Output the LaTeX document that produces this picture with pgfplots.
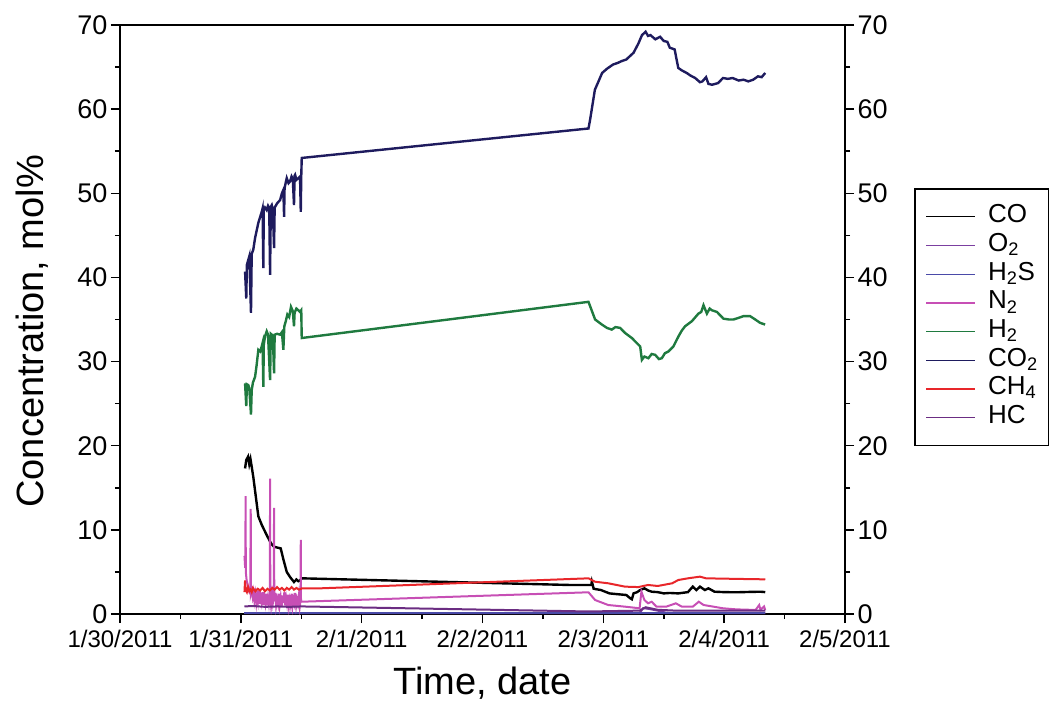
\documentclass[border=0pt]{standalone}
\usepackage{fontspec}
\setmainfont{Liberation Sans}
\usepackage{pgfplots}
\pgfplotsset{compat=1.18}
\definecolor{cCO}{HTML}{000000}
\definecolor{cO2}{HTML}{7B3FA0}
\definecolor{cH2S}{HTML}{4A4AA8}
\definecolor{cN2}{HTML}{C74FB5}
\definecolor{cH2}{HTML}{1F7A3F}
\definecolor{cCO2}{HTML}{1E1B5E}
\definecolor{cCH4}{HTML}{E8262A}
\definecolor{cHC}{HTML}{6B2D82}
\begin{document}
\begin{tikzpicture}
\path[use as bounding box] (0,0) rectangle (1049pt,702pt);
\begin{axis}[
  at={(120pt,88pt)}, anchor=south west,
  scale only axis, width=725pt, height=589pt,
  xmin=0, xmax=6, ymin=0, ymax=70,
  xtick={0,1,2,3,4,5,6},
  xticklabels={1/30/2011,1/31/2011,2/1/2011,2/2/2011,2/3/2011,2/4/2011,2/5/2011},
  ytick={0,10,...,70},
  minor x tick num=1, minor y tick num=1,
  xtick pos=bottom, ytick pos=left,
  tick align=outside,
  major tick length=9pt, minor tick length=5pt,
  every tick/.style={line width=1.5pt, black},
  axis line style={line width=1.9pt},
  /pgf/number format/assume math mode=true,
  xticklabel style={font=\fontsize{24}{28}\selectfont, yshift=-4pt},
  yticklabel style={font=\fontsize{27}{31}\selectfont},
  xlabel={Time, date}, ylabel={Concentration, mol\%},
  label style={font=\fontsize{38}{44}\selectfont},
  xlabel style={at={(axis description cs:0.5,-0.117)}, anchor=center},
  ylabel style={at={(axis description cs:-0.121,0.48)}, anchor=center},
  legend cell align=left,
  legend style={at={(1.0952,0.7233)}, anchor=north west, draw=black, line width=1.6pt,
    font=\fontsize{26}{30}\selectfont, inner xsep=11pt, inner ysep=15pt, row sep=2.7pt,
    nodes={inner xsep=0pt, inner ysep=2pt, text height=17pt, text depth=5pt},
    column sep=12pt},
  legend image code/.code={\draw[#1, line width=1.3pt] (0pt,0pt) -- (49pt,0pt);},
  every axis plot/.append style={line width=2pt},
]
% CO
\addplot[cCO, line width=2.4pt] coordinates {
(1.035,17.3)(1.045,18.3)(1.06,18.7)(1.07,17.8)(1.08,18.4)(1.09,17.5)(1.103,16.3)(1.12,14.4)
(1.145,11.6)(1.173,10.6)(1.20,9.8)(1.21,9.5)(1.242,8.6)(1.26,8.2)(1.275,8.0)(1.30,7.9)(1.33,7.8)
(1.352,6.5)(1.38,5.0)(1.407,4.4)(1.44,3.8)(1.46,4.1)(1.476,3.9)(1.49,4.0)(1.504,4.24)
(3.72,3.45)(3.90,3.45)(3.905,3.85)(3.92,3.0)(3.98,2.85)(4.05,2.45)(4.12,2.35)(4.19,2.26)
(4.22,1.9)(4.236,1.75)(4.25,2.45)(4.28,2.6)(4.305,2.85)(4.34,3.05)(4.37,2.8)(4.40,2.65)
(4.45,2.6)(4.50,2.45)(4.55,2.5)(4.62,2.45)(4.70,2.6)(4.74,3.25)(4.77,2.85)(4.80,3.25)
(4.84,2.85)(4.87,3.05)(4.92,2.65)(5.00,2.6)(5.10,2.58)(5.20,2.62)(5.30,2.65)(5.34,2.6)
};
\addlegendentry{CO}
% O2
\addplot[cO2] coordinates {
(1.03,0.1)(1.504,0.1)(3.877,0.1)(4.30,0.1)(4.33,0.7)(4.38,0.6)(4.45,0.4)(4.52,0.15)(5.34,0.1)
};
\addlegendentry{O\textsubscript{2}}
% H2S
\addplot[cH2S] coordinates {
(1.03,0.15)(1.504,0.15)(3.877,0.15)(5.34,0.15)
};
\addlegendentry{H\textsubscript{2}S}
% N2
\addplot[cN2] coordinates {
(1.030,6.9)(1.036,5.5)(1.040,14.0)(1.041,5.0)(1.048,4.0)(1.055,3.6)(1.062,3.0)(1.070,2.7)
(1.078,3.2)(1.082,12.5)(1.083,2.4)(1.090,2.8)(1.098,2.0)(1.105,2.6)(1.112,1.6)(1.120,2.4)
(1.128,1.3)(1.135,2.2)(1.142,1.5)(1.150,2.8)(1.158,1.2)(1.165,2.0)(1.172,1.4)(1.180,2.6)
(1.188,1.1)(1.195,2.1)(1.203,1.3)(1.210,2.4)(1.218,1.0)(1.225,1.9)(1.232,1.2)(1.240,2.3)
(1.242,16.1)(1.244,1.8)(1.250,1.0)(1.258,2.2)(1.265,1.3)(1.272,2.0)(1.275,12.6)(1.277,1.5)
(1.285,2.5)(1.292,1.0)(1.300,1.8)(1.308,1.2)(1.315,2.4)(1.322,1.1)(1.330,2.0)(1.338,0.9)
(1.345,2.2)(1.352,1.3)(1.360,2.6)(1.368,1.0)(1.375,1.9)(1.382,1.2)(1.390,2.3)(1.398,0.9)
(1.405,1.7)(1.412,1.1)(1.420,2.4)(1.428,1.0)(1.435,1.8)(1.442,1.3)(1.450,2.5)(1.458,1.0)
(1.465,1.7)(1.472,1.2)(1.480,2.2)(1.488,0.9)(1.494,1.6)(1.496,8.8)(1.498,1.5)(1.504,1.46)
(3.877,2.58)(3.932,1.66)(4.04,1.07)(4.18,0.87)(4.30,0.68)(4.315,2.65)(4.34,1.66)(4.37,1.27)
(4.40,1.46)(4.44,0.87)(4.52,0.87)(4.60,1.27)(4.65,0.87)(4.74,0.87)(4.79,1.46)(4.83,1.07)
(4.99,0.68)(5.10,0.55)(5.26,0.48)(5.29,1.07)(5.30,0.5)(5.33,0.9)(5.34,0.48)
};
\addlegendentry{N\textsubscript{2}}
% H2
\addplot[cH2, line width=2.4pt] coordinates {
(1.035,27.4)(1.045,24.7)(1.05,27.3)(1.062,27.2)(1.07,26.8)(1.084,23.7)(1.09,26.6)(1.10,27.5)
(1.118,28.2)(1.13,29.5)(1.145,31.4)(1.16,31.2)(1.173,31.8)(1.18,32.2)(1.186,27.0)(1.19,32.0)
(1.20,33.0)(1.214,33.6)(1.225,33.2)(1.242,27.8)(1.248,33.3)(1.256,33.2)(1.265,33.0)(1.275,28.6)
(1.28,33.2)(1.30,33.3)(1.325,33.2)(1.34,33.5)(1.352,31.4)(1.36,34.2)(1.372,34.8)(1.385,35.6)
(1.40,35.3)(1.415,36.5)(1.43,36.0)(1.440,34.2)(1.445,35.8)(1.46,36.3)(1.476,36.1)(1.49,35.9)
(1.50,36.1)(1.504,32.8)(3.877,37.1)(3.932,35.0)(3.988,34.4)(4.03,34.0)(4.070,33.8)(4.10,34.1)
(4.139,34.0)(4.180,33.4)(4.236,32.8)(4.277,32.2)(4.305,31.8)(4.319,30.2)(4.34,30.6)(4.373,30.4)
(4.40,30.9)(4.429,30.8)(4.46,30.3)(4.484,30.4)(4.51,31.0)(4.539,31.2)(4.580,31.8)(4.622,33.0)
(4.65,33.7)(4.677,34.2)(4.733,34.8)(4.787,35.7)(4.81,35.9)(4.829,36.7)(4.857,35.7)(4.88,36.3)
(4.898,36.1)(4.940,35.9)(4.994,35.1)(5.04,35.0)(5.077,35.0)(5.12,35.2)(5.160,35.4)(5.215,35.4)
(5.257,35.0)(5.298,34.6)(5.339,34.4)
};
\addlegendentry{H\textsubscript{2}}
% CO2
\addplot[cCO2, line width=2.4pt] coordinates {
(1.035,40.7)(1.045,37.5)(1.05,41.5)(1.062,42.1)(1.07,42.5)(1.084,35.8)(1.09,42.8)(1.103,43.3)
(1.118,44.7)(1.13,45.5)(1.145,46.5)(1.16,47.2)(1.173,47.8)(1.18,48.2)(1.186,41.1)(1.19,48.0)
(1.20,48.3)(1.214,48.0)(1.225,48.5)(1.235,48.2)(1.242,40.3)(1.248,48.4)(1.256,48.6)(1.265,48.0)
(1.275,43.5)(1.28,48.3)(1.30,48.8)(1.325,49.2)(1.34,50.0)(1.352,50.4)(1.358,47.2)(1.362,50.6)
(1.372,51.3)(1.380,51.8)(1.395,51.2)(1.407,51.4)(1.42,52.0)(1.43,51.7)(1.440,48.6)(1.445,52.1)
(1.449,52.2)(1.46,51.6)(1.476,51.8)(1.49,52.0)(1.496,47.8)(1.500,52.0)(1.504,54.2)
(3.877,57.7)(3.89,58.7)(3.93,62.3)(3.99,64.3)(4.03,64.8)(4.08,65.3)(4.12,65.5)(4.15,65.7)
(4.19,65.9)(4.25,66.7)(4.29,67.8)(4.32,68.8)(4.35,69.2)(4.37,68.7)(4.39,68.8)(4.43,68.3)
(4.47,68.6)(4.50,68.1)(4.53,68.0)(4.55,67.3)(4.59,67.1)(4.62,64.9)(4.65,64.6)(4.69,64.3)
(4.72,64.0)(4.76,63.7)(4.80,63.2)(4.82,63.3)(4.85,63.8)(4.87,63.0)(4.90,62.9)(4.95,63.1)
(4.99,63.7)(5.03,63.6)(5.07,63.7)(5.12,63.4)(5.16,63.5)(5.20,63.3)(5.24,63.5)(5.28,63.9)
(5.31,63.8)(5.34,64.3)
};
\addlegendentry{CO\textsubscript{2}}
% CH4
\addplot[cCH4] coordinates {
(1.030,2.6)(1.035,4.0)(1.04,2.9)(1.05,2.6)(1.06,3.2)(1.07,2.7)(1.08,2.9)(1.09,2.6)(1.10,3.1)
(1.12,2.7)(1.14,3.0)(1.16,2.8)(1.18,3.1)(1.20,2.7)(1.22,3.0)(1.24,2.8)(1.26,3.1)(1.28,2.9)
(1.30,3.2)(1.32,2.9)(1.34,3.1)(1.36,2.8)(1.38,3.1)(1.40,2.9)(1.42,3.2)(1.44,2.9)(1.46,3.1)
(1.48,2.9)(1.50,3.0)(1.504,3.05)(1.655,3.05)(3.877,4.24)(3.93,3.84)(4.04,3.65)(4.18,3.25)
(4.29,3.2)(4.37,3.45)(4.45,3.33)(4.57,3.65)(4.62,4.04)(4.70,4.24)(4.80,4.44)(4.85,4.24)
(5.00,4.2)(5.20,4.15)(5.34,4.12)
};
\addlegendentry{CH\textsubscript{4}}
% HC
\addplot[cHC] coordinates {
(1.03,0.9)(1.10,0.95)(1.20,0.85)(1.30,0.9)(1.40,0.85)(1.504,0.9)(3.877,0.3)(4.30,0.4)
(4.35,0.8)(4.45,0.5)(4.60,0.4)(5.34,0.4)
};
\addlegendentry{HC}
\node[anchor=south east, font=\fontsize{13}{15}\selectfont\itshape, inner sep=1pt]
  at (rel axis cs:0.99,1) {EERC JS39754.CDR};
\end{axis}
\begin{axis}[
  at={(120pt,88pt)}, anchor=south west,
  scale only axis, width=725pt, height=589pt,
  xmin=0, xmax=6, ymin=0, ymax=70,
  axis x line=none, axis y line*=right,
  ytick={0,10,...,70}, minor y tick num=1,
  tick align=outside,
  major tick length=9pt, minor tick length=5pt,
  every tick/.style={line width=1.5pt, black},
  axis line style={line width=1.9pt, -},
  /pgf/number format/assume math mode=true,
  yticklabel style={font=\fontsize{27}{31}\selectfont},
]
\end{axis}
\end{tikzpicture}
\end{document}
